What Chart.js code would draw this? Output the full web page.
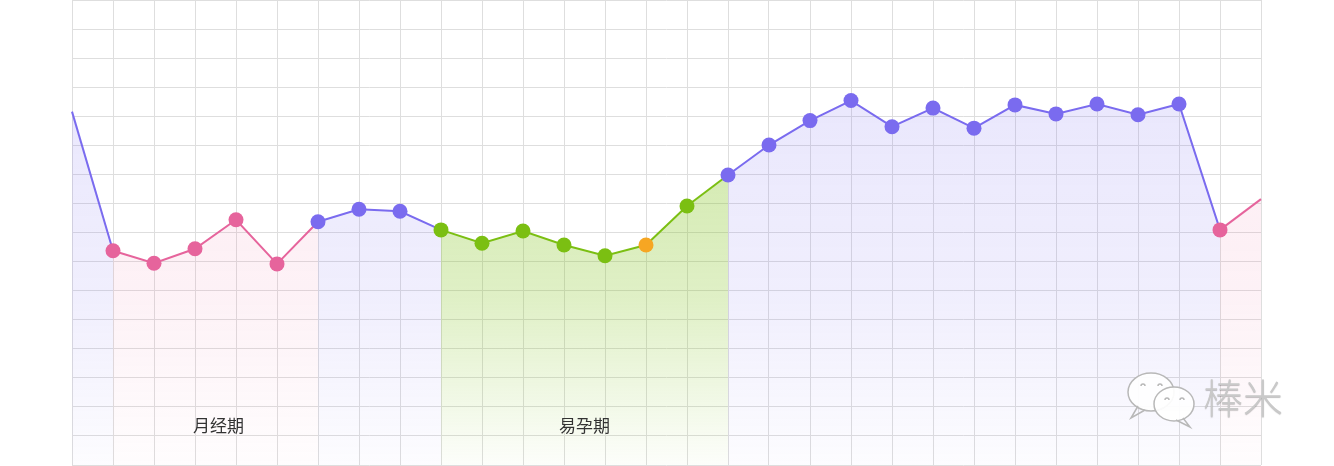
<!DOCTYPE html>
<html><head><meta charset="utf-8">
<script src="https://cdn.jsdelivr.net/npm/chart.js@4.4.0/dist/chart.umd.min.js"></script>
<style>html,body{margin:0;padding:0;background:#fff;overflow:hidden}#wrap{width:1334px;height:466px;position:relative}</style>
</head><body><div id="wrap"><canvas id="c"></canvas></div>
<script>
// ---- data ----
const days = ['1','2','3','4','5','6','7','8','9','10','11','12','13','14','15','16','17','18','19','20','21','22','23','24','25','26','27','28','29','30'];
const values = [12.16,7.37,6.94,7.44,8.44,6.92,8.37,8.80,8.73,8.09,7.63,8.05,7.57,7.20,7.57,8.91,9.98,11.01,11.85,12.54,11.64,12.28,11.59,12.39,12.08,12.42,12.05,12.42,8.09,9.15];
// p = normal, m = menstrual, f = fertile, o = ovulation day
const phases = ['p','m','m','m','m','m','p','p','p','f','f','f','f','f','o','f','p','p','p','p','p','p','p','p','p','p','p','p','m','m'];
const phaseLabels = [{phase:'m', text:'月经期'}, {phase:'f', text:'易孕期'}];
const yMin = 0, yMax = 16, yStep = 1;
const watermark = '棒米';

// ---- styles ----
const lineColor = {p:'#7a6bef', m:'#e6649c', f:'#7bbf12', o:'#7bbf12'};
const dotColor  = {p:'#7a6bef', m:'#e6649c', f:'#7bbf12', o:'#f6a623'};
const fillRGB   = {p:[123,108,240], m:[236,110,160], f:[130,195,30], o:[130,195,30]};
const fillA     = {p:[0.16,0.11,0.02], m:[0.13,0.09,0.015], f:[0.38,0.25,0.02], o:[0.38,0.25,0.02]};

const canvas = document.getElementById('c');
const c2d = canvas.getContext('2d');
const grads = {};
function grad(ph){
  if(!grads[ph]){
    const g = c2d.createLinearGradient(0,100,0,465);
    const [r,gg,b] = fillRGB[ph];
    g.addColorStop(0,`rgba(${r},${gg},${b},${fillA[ph][0]})`);
    g.addColorStop(0.55,`rgba(${r},${gg},${b},${fillA[ph][1]})`);
    g.addColorStop(1,`rgba(${r},${gg},${b},${fillA[ph][2]})`);
    grads[ph]=g;
  }
  return grads[ph];
}

const labelPlugin = {
  id:'labels',
  afterDraw(chart){
    const ctx = chart.ctx, xs = chart.scales.x;
    ctx.save();
    ctx.font = '17px "Noto Sans CJK SC", sans-serif';
    ctx.fillStyle = '#333';
    ctx.textAlign = 'center';
    ctx.textBaseline = 'middle';
    phaseLabels.forEach(l=>{
      const s = phases.findIndex((p,i)=>i>0 && p===l.phase);
      let e = s;
      while(e<phases.length && (phases[e]===l.phase || (l.phase==='f' && phases[e]==='o'))) e++;
      const x = (xs.getPixelForValue(s)+xs.getPixelForValue(Math.min(e,phases.length-1)))/2;
      ctx.fillText(l.text, x + (l.phase==='m'?3:0), 426);
    });
    // watermark
    ctx.lineWidth = 1.5;
    ctx.strokeStyle = '#b8b8b8';
    ctx.fillStyle = 'rgba(255,255,255,0.92)';
    // big bubble
    ctx.beginPath(); ctx.ellipse(1151,392,23,19,0,0,Math.PI*2); ctx.fill(); ctx.stroke();
    ctx.beginPath(); ctx.moveTo(1138,406); ctx.lineTo(1131,418); ctx.lineTo(1145,410); ctx.stroke();
    ctx.beginPath(); ctx.arc(1143,386,2,Math.PI,0); ctx.stroke();
    ctx.beginPath(); ctx.arc(1160,386,2,Math.PI,0); ctx.stroke();
    // small bubble
    ctx.beginPath(); ctx.ellipse(1174,404,20,17,0,0,Math.PI*2); ctx.fill(); ctx.stroke();
    ctx.beginPath(); ctx.moveTo(1183,418); ctx.lineTo(1190,427); ctx.lineTo(1176,420); ctx.stroke();
    ctx.beginPath(); ctx.arc(1167,400,2,Math.PI,0); ctx.stroke();
    ctx.beginPath(); ctx.arc(1182,400,2,Math.PI,0); ctx.stroke();
    ctx.font = '300 40px "Noto Sans CJK SC", sans-serif';
    ctx.textAlign = 'left';
    ctx.shadowColor = 'rgba(0,0,0,0.25)'; ctx.shadowOffsetY = 1; ctx.shadowBlur = 1;
    ctx.fillStyle = '#c9c9c9';
    ctx.fillText(watermark, 1203, 398);
    ctx.restore();
  }
};

new Chart(canvas, {
  type:'line',
  data:{
    labels: days,
    datasets:[{
      data: values,
      fill:'origin',
      tension:0,
      borderWidth:2,
      borderColor: lineColor.p,
      backgroundColor: grad('p'),
      pointRadius: values.map((v,i)=> (i===0||i===values.length-1)?0:7.5),
      pointHoverRadius: values.map((v,i)=> (i===0||i===values.length-1)?0:7.5),
      pointBorderWidth:0,
      pointBackgroundColor: phases.map(p=>dotColor[p]),
      pointBorderColor: phases.map(p=>dotColor[p]),
      segment:{
        borderColor: ctx => lineColor[phases[ctx.p0DataIndex]],
        backgroundColor: ctx => grad(phases[ctx.p0DataIndex])
      }
    }]
  },
  options:{
    responsive:true, maintainAspectRatio:false, animation:false,
    layout:{padding:{left:72,right:73,top:0,bottom:1}},
    plugins:{legend:{display:false}, tooltip:{enabled:false}},
    events:[],
    scales:{
      x:{offset:false, grid:{color:'#dedede', lineWidth:1, drawTicks:false}, border:{display:false}, ticks:{display:false}},
      y:{min:yMin, max:yMax, grid:{color:'#dedede', lineWidth:1, drawTicks:false}, border:{display:false}, ticks:{display:false, stepSize:yStep}}
    }
  },
  plugins:[labelPlugin]
});
</script>
</body></html>
